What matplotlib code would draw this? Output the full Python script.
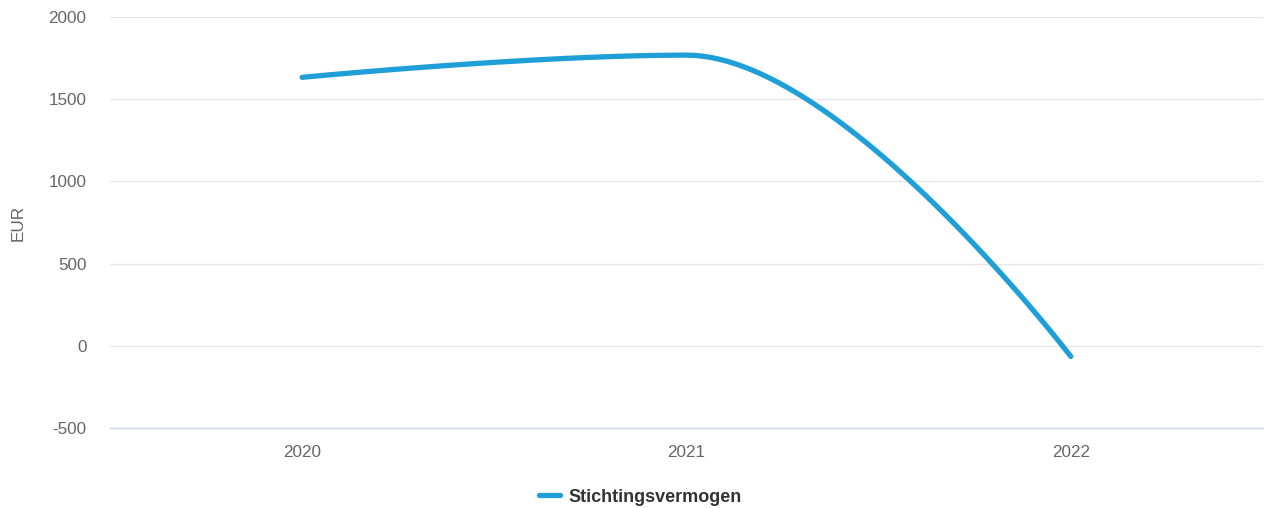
import matplotlib.pyplot as plt
import numpy as np

years = ["2020", "2021", "2022"]
vermogen = [1633, 1768, -65]
series_name = "Stichtingsvermogen"
y_ticks = [-500, 0, 500, 1000, 1500, 2000]


def spline_path(xs, ys, smoothing=1.5, n=60):
    # highcharts style spline: cubic beziers with clamped control points
    denom = smoothing + 1
    cnt = len(xs)
    left = [None] * cnt
    right = [None] * cnt
    for i in range(1, cnt - 1):
        px, py = xs[i], ys[i]
        lx, ly = xs[i - 1], ys[i - 1]
        nx, ny = xs[i + 1], ys[i + 1]
        lcx = (smoothing * px + lx) / denom
        lcy = (smoothing * py + ly) / denom
        rcx = (smoothing * px + nx) / denom
        rcy = (smoothing * py + ny) / denom
        if rcx != lcx:
            corr = (rcy - lcy) * (rcx - px) / (rcx - lcx) + py - rcy
            lcy += corr
            rcy += corr
        if lcy > ly and lcy > py:
            lcy = max(ly, py)
            rcy = 2 * py - lcy
        elif lcy < ly and lcy < py:
            lcy = min(ly, py)
            rcy = 2 * py - lcy
        if rcy > ny and rcy > py:
            rcy = max(ny, py)
            lcy = 2 * py - rcy
        elif rcy < ny and rcy < py:
            rcy = min(ny, py)
            lcy = 2 * py - rcy
        left[i] = (lcx, lcy)
        right[i] = (rcx, rcy)
    outx, outy = [xs[0]], [ys[0]]
    t = np.linspace(0, 1, n)[1:]
    for i in range(1, cnt):
        p0 = (xs[i - 1], ys[i - 1])
        p1 = right[i - 1] or p0
        p3 = (xs[i], ys[i])
        p2 = left[i] or p3
        bx = (1 - t) ** 3 * p0[0] + 3 * (1 - t) ** 2 * t * p1[0] + 3 * (1 - t) * t ** 2 * p2[0] + t ** 3 * p3[0]
        by = (1 - t) ** 3 * p0[1] + 3 * (1 - t) ** 2 * t * p1[1] + 3 * (1 - t) * t ** 2 * p2[1] + t ** 3 * p3[1]
        outx.extend(bx)
        outy.extend(by)
    return np.array(outx), np.array(outy)


plt.rcParams['font.family'] = ['Liberation Sans', 'DejaVu Sans']

fig = plt.figure(figsize=(12.64, 5.08), dpi=100)
ax = fig.add_axes([110 / 1264, 80 / 508, 1153 / 1264, 411 / 508])

x = np.arange(len(years))
sx, sy = spline_path(list(x), vermogen)
ax.plot(sx, sy, color="#1f9fd8", lw=3.8, solid_capstyle="round", label=series_name, zorder=3)

ax.set_xlim(-0.5, len(years) - 0.5)
ax.set_ylim(-500, 2000)
ax.set_yticks(y_ticks)
ax.set_yticklabels([str(v) for v in y_ticks])
ax.set_xticks(x)
ax.set_xticklabels(years)
ax.grid(axis="y", color="#e6e6e6", lw=1)
ax.set_axisbelow(True)
for s in ["top", "right", "left"]:
    ax.spines[s].set_visible(False)
ax.spines["bottom"].set_color("#ccd6eb")
ax.spines["bottom"].set_linewidth(1)
ax.tick_params(axis="both", length=0, labelsize=12.3, labelcolor="#666666")
ax.tick_params(axis="y", pad=17)
ax.tick_params(axis="x", pad=12)
ax.set_ylabel("EUR", color="#666666", fontsize=12.3)
ax.yaxis.set_label_coords(-84 / 1153, 0.5)

leg = fig.legend(loc="center", bbox_to_anchor=(640 / 1264, 1 - 497 / 508), frameon=False,
                 prop={"weight": "bold", "size": 13}, handlelength=1.2, handletextpad=0.42)
for t in leg.get_texts():
    t.set_color("#333333")

fig.savefig("out.png", dpi=100)
